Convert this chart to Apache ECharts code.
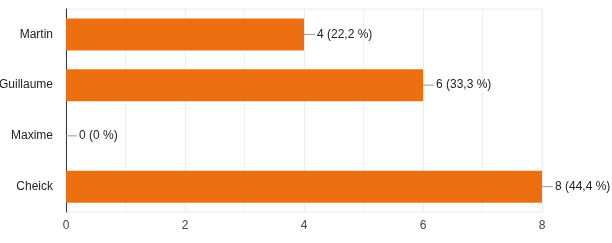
<!DOCTYPE html>
<html><head><meta charset="utf-8">
<script src="https://cdn.jsdelivr.net/npm/echarts@6/dist/echarts.min.js"></script>
<style>html,body{margin:0;padding:0;background:#fff}#c{width:612px;height:243px}</style>
</head><body><div id="c"></div>
<script>
const categories = ['Martin', 'Guillaume', 'Maxime', 'Cheick'];
const counts = [4, 6, 0, 8];
const percents = ['22,2', '33,3', '0', '44,4'];
const xTicks = [0, 2, 4, 6, 8];

const chart = echarts.init(document.getElementById('c'));
const font = 'Arial, "Liberation Sans", sans-serif';
chart.setOption({
  animation: false,
  grid: { left: 66, right: 70, top: 9, bottom: 31, containLabel: false, outerBoundsMode: 'none',
    show: true, borderColor: '#ececec', borderWidth: 1 },
  xAxis: {
    type: 'value', min: 0, max: 8, interval: 2,
    axisLine: { show: false }, axisTick: { show: false },
    axisLabel: { color: '#444', fontSize: 12, fontFamily: font, margin: 8,
      formatter: v => xTicks.includes(v) ? String(v) : '' },
    splitLine: { lineStyle: { color: '#ececec' } },
    minorTick: { show: false, splitNumber: 2 },
    minorSplitLine: { show: true, lineStyle: { color: '#f0f0f0' } }
  },
  yAxis: {
    type: 'category', data: categories, inverse: true,
    axisLine: { show: true, lineStyle: { color: '#333', width: 1 } },
    axisTick: { show: false },
    axisLabel: { color: '#222', fontSize: 12, fontFamily: font, margin: 13 }
  },
  series: [{
    type: 'bar',
    data: counts,
    barWidth: 32,
    itemStyle: { color: '#EC6F12' },
    label: {
      show: true, position: 'right', distance: 0,
      fontFamily: font, fontSize: 12, color: '#222',
      formatter: p => '{l|}{t|' + counts[p.dataIndex] + ' (' + percents[p.dataIndex] + ' %)}',
      rich: {
        l: { width: 11, height: 1, backgroundColor: '#999' },
        t: { padding: [0, 0, 0, 2], fontFamily: font, fontSize: 12, color: '#222' }
      }
    }
  }]
});
</script></body></html>
